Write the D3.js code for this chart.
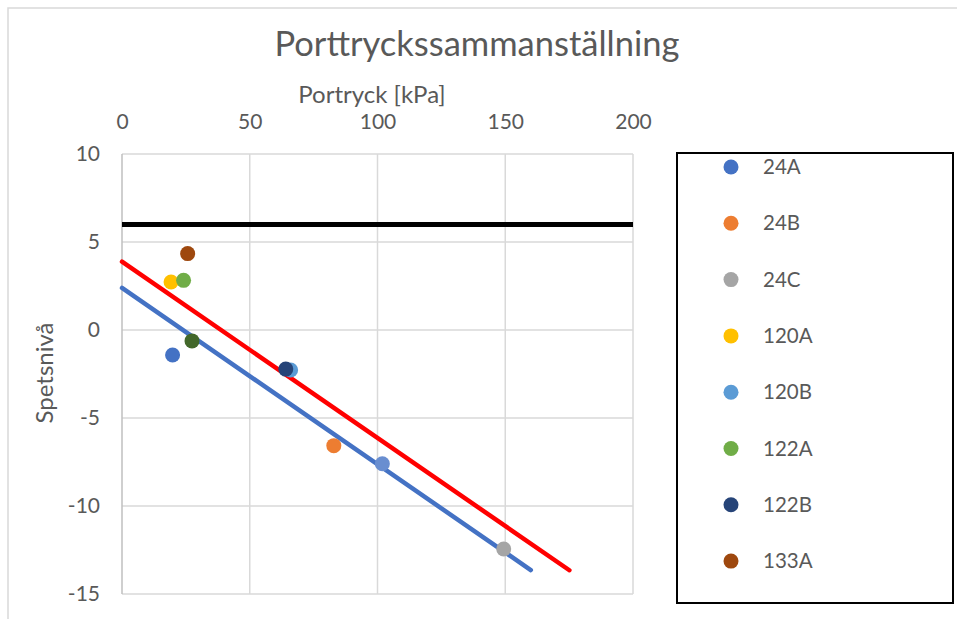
<!DOCTYPE html>
<html>
<head>
<meta charset="utf-8">
<script src="https://d3js.org/d3.v7.min.js"></script>
<style>
  body { margin: 0; background: #fff; }
  text { font-family: Lato, "Open Sans", sans-serif; fill: #595959; }
</style>
</head>
<body>
<svg id="chart" width="957" height="619"></svg>
<script>
// Data
const seriesNames = ["24A", "24B", "24C", "120A", "120B", "122A", "122B", "133A", "", ""];
const seriesX = [19.8, 82.9, 149.4, 19.2, 66.0, 24.1, 64.1, 25.7, 27.4, 101.9];
const seriesY = [-1.42, -6.57, -12.44, 2.73, -2.27, 2.82, -2.22, 4.34, -0.62, -7.6];
const legendNames = ["24A", "24B", "24C", "120A", "120B", "122A", "122B", "133A"];
const xTicks = [0, 50, 100, 150, 200];
const yTicks = [10, 5, 0, -5, -10, -15];

// reference lines: [x0, y0, x1, y1]
const limitLine = [0, 6, 200, 6];
const redLine = [0, 3.88, 175.1, -13.65];
const blueLine = [0, 2.39, 160.0, -13.64];

const colors = ["#4472C4", "#ED7D31", "#A5A5A5", "#FFC000", "#5B9BD5",
                "#70AD47", "#264478", "#9E480E", "#43682B", "#698ED0"];

const svg = d3.select("#chart");

// outer chart border
svg.append("path")
  .attr("d", "M8,619 L8,8 L957,8")
  .attr("fill", "none")
  .attr("stroke", "#d9d9d9")
  .attr("stroke-width", 1.5);

// Scales
const x = d3.scaleLinear().domain([0, 200]).range([122, 633]);
const y = d3.scaleLinear().domain([-15, 10]).range([594, 154]);

// Grid
svg.append("g").selectAll("line").data(yTicks).enter().append("line")
  .attr("x1", x(0)).attr("x2", x(200))
  .attr("y1", d => y(d)).attr("y2", d => y(d))
  .attr("stroke", "#d9d9d9").attr("stroke-width", 1.5);

svg.append("g").selectAll("line").data(xTicks.filter(d => d > 0)).enter().append("line")
  .attr("x1", d => x(d)).attr("x2", d => x(d))
  .attr("y1", y(10)).attr("y2", y(-15))
  .attr("stroke", "#d9d9d9").attr("stroke-width", 1.5);

// left axis line
svg.append("line")
  .attr("x1", x(0)).attr("x2", x(0))
  .attr("y1", y(10)).attr("y2", y(-15))
  .attr("stroke", "#bfbfbf").attr("stroke-width", 1.5);

// Axes (labels only)
const xAxis = svg.append("g")
  .attr("transform", "translate(0,122)")
  .call(d3.axisTop(x).tickValues(xTicks).tickSize(0).tickPadding(0).tickFormat(d => String(d)));
xAxis.select(".domain").remove();
xAxis.selectAll("text")
  .attr("y", 0).attr("dy", "0.35em")
  .style("font-size", "21px").style("font-family", "Lato").attr("fill", "#595959");

const yAxis = svg.append("g")
  .attr("transform", "translate(100,0)")
  .call(d3.axisLeft(y).tickValues(yTicks).tickSize(0).tickPadding(0).tickFormat(d => String(d)));
yAxis.select(".domain").remove();
yAxis.selectAll("text")
  .style("font-size", "21px").style("font-family", "Lato").attr("fill", "#595959");

// Titles
svg.append("text")
  .attr("x", 477).attr("y", 56)
  .attr("text-anchor", "middle")
  .style("font-size", "34.5px")
  .text("Porttryckssammanställning");

svg.append("text")
  .attr("x", 372).attr("y", 103)
  .attr("text-anchor", "middle")
  .style("font-size", "24px")
  .text("Portryck [kPa]");

svg.append("text")
  .attr("transform", "translate(53,373) rotate(-90)")
  .attr("text-anchor", "middle")
  .style("font-size", "24px")
  .text("Spetsnivå");

// Lines
const lineGen = d3.line().x(d => x(d[0])).y(d => y(d[1]));
function drawLine(seg, color) {
  svg.append("path")
    .datum([[seg[0], seg[1]], [seg[2], seg[3]]])
    .attr("d", lineGen)
    .attr("fill", "none")
    .attr("stroke", color)
    .attr("stroke-width", 4.5)
    .attr("stroke-linecap", "round");
}
drawLine(blueLine, "#4472C4");
drawLine(redLine, "#FF0000");
svg.append("path")
  .datum([[limitLine[0], limitLine[1]], [limitLine[2], limitLine[3]]])
  .attr("d", lineGen)
  .attr("fill", "none")
  .attr("stroke", "#000")
  .attr("stroke-width", 5);

// Points
svg.append("g").selectAll("circle")
  .data(seriesX.map((d, i) => i)).enter()
  .append("circle")
  .attr("cx", i => x(seriesX[i]))
  .attr("cy", i => y(seriesY[i]))
  .attr("r", 7.5)
  .attr("fill", i => colors[i]);

// Legend
svg.append("rect")
  .attr("x", 677).attr("y", 153)
  .attr("width", 276).attr("height", 450)
  .attr("fill", "none")
  .attr("stroke", "#000")
  .attr("stroke-width", 2);

const legend = svg.append("g").selectAll("g")
  .data(legendNames).enter().append("g")
  .attr("transform", (d, i) => "translate(731," + (167 + i * 56.3) + ")");
legend.append("circle")
  .attr("r", 7.5)
  .attr("fill", (d, i) => colors[i]);
legend.append("text")
  .attr("x", 32).attr("dy", "0.35em")
  .style("font-size", "20.5px")
  .text(d => d);
</script>
</body>
</html>
